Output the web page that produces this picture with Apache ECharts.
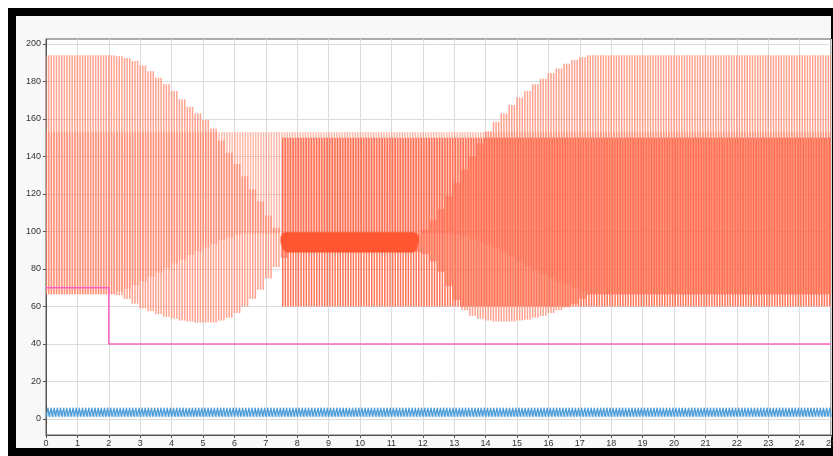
<!DOCTYPE html>
<html><head><meta charset="utf-8">
<script src="https://cdn.jsdelivr.net/npm/echarts@6/dist/echarts.min.js"></script>
<style>
html,body{margin:0;padding:0;background:#ffffff;width:833px;height:456px;overflow:hidden;}
#frame{position:absolute;left:8px;top:8px;width:825px;height:448px;background:#000;}
#panel{position:absolute;left:16px;top:16px;width:815px;height:432px;background:#f8f8f8;}
#chart{position:absolute;left:0;top:0;width:833px;height:456px;}
</style></head><body>
<div id="frame"></div><div id="panel"></div><div id="chart"></div>
<script>
// ---- data ----
// envelopes of the switching signals, one value every 0.25 s
const envStep = 0.25;
// signal 1: t = 0 .. 25
const start1 = 0;
const upper1 = [194,194,194,194,194,194,194,194,194,193.5,192.5,191,188.5,185.5,182,178.5,175,170.5,166.5,163,159.5,155,148.5,142,136,129.5,122.5,116,108.5,102,99,
  99,99,99,99,99,99,99,99,99,99,99,99,99,99,99,99,99,
  101,106,112,119,126,133,140,147,153.5,158.5,163,167.5,171.5,175,178.5,181.5,184.5,187,189.5,191.5,193,
  194,194,194,194,194,194,194,194,194,194,194,194,194,194,194,194,194,194,194,194,194,194,194,194,194,194,194,194,194,194,194,194];
const lower1 = [66.5,66.5,66.5,66.5,66.5,66.5,66.5,66.5,66.5,66,64,61.5,59,57.5,56,54.5,53.5,52.5,52,51.5,51.5,51.5,52.5,54,56.5,60,64,69,75,81,86,
  89,89,89,89,89,89,89,89,89,89,89,89,89,89,89,89,89,
  88,84,78.5,71,63.5,58,55,53.5,52.5,52,52,52,52.5,53,54,55,56.5,58,59.5,61.5,64,
  66.5,66.5,66.5,66.5,66.5,66.5,66.5,66.5,66.5,66.5,66.5,66.5,66.5,66.5,66.5,66.5,66.5,66.5,66.5,66.5,66.5,66.5,66.5,66.5,66.5,66.5,66.5,66.5,66.5,66.5,66.5,66.5];
// signal 2: t = 0 .. 25
const start2 = 0;
const upper2 = [153,153,153,153,153,153,153,153,153,153,153,153,153,153,153,153,153,153,153,153,153,153,153,153,153,153,153,153,153,153,153,
  153,153,153,153,153,153,153,153,153,153,153,153,153,153,153,153,153,
  153,153,153,153,153,153,153,153,153,153,153,153,153,153,153,153,153,153,153,153,153,
  153,153,153,153,153,153,153,153,153,153,153,153,153,153,153,153,153,153,153,153,153,153,153,153,153,153,153,153,153,153,153,153];
const lower2 = [66.5,66.5,66.5,66.5,66.5,66.5,66.5,66.5,66.5,68,69.5,71.5,73.5,76,78,80.5,83,85,87.5,89.5,91.5,93.5,95.5,97,98.5,
  99,99,99,99,99,99,99,99,99,99,99,99,99,99,99,99,99,99,99,99,99,99,99,99,99,99,99,
  98.5,97.5,96,94.5,93,91,89,86.5,84,81.5,79.5,77.5,75.5,73.5,72,70,68.5,
  66.5,66.5,66.5,66.5,66.5,66.5,66.5,66.5,66.5,66.5,66.5,66.5,66.5,66.5,66.5,66.5,66.5,66.5,66.5,66.5,66.5,66.5,66.5,66.5,66.5,66.5,66.5,66.5,66.5,66.5,66.5,66.5];
// signal 3: starts at t = 7.5
const start3 = 7.5;
const upper3 = [150,150,150,150,150,150,150,150,150,150,150,150,150,150,150,150,150,150,
  150,150,150,150,150,150,150,150,150,150,150,150,150,150,150,150,150,150,150,150,150,150,150,150,150,150,150,150,150,150,150,150,150,150,150,
  150,150,150,150,150,150,150,150,150,150,150,150,150,150,150,150,150,150];
const lower3 = [60,60,60,60,60,60,60,60,60,60,60,60,60,60,60,60,60,60,
  60,60,60,60,60,60,60,60,60,60,60,60,60,60,60,60,60,60,60,60,60,60,60,60,60,60,60,60,60,60,60,60,60,60,60,
  60,60,60,60,60,60,60,60,60,60,60,60,60,60,60,60,60,60];
const pulsesPerStep = 3;

// dense low-amplitude band
const bandT    = [7.48, 7.55, 7.65, 11.7, 11.8, 11.87];
const bandLow  = [94, 90.5, 89, 89, 90.5, 95];
const bandHigh = [97, 99, 99.5, 99.5, 99, 97];

// reference step (pink)
const stepT = [0, 2, 2, 25];
const stepV = [70, 70, 40, 40];

// fast small oscillation (blue)
const blueLow = 1.3, blueHigh = 6.0, bluePeriod = 0.1, blueRise = 0.065;
const lightBlueLow = 1.0, lightBlueHigh = 4.2;

// axis ticks
const xMin = 0, xMax = 25, xStep = 1;
const yTicks = [0,20,40,60,80,100,120,140,160,180,200];
const yMin = -8.53, yMax = 202.67;

// ---- build series ----
function buildPulses(start, up, lo, offset) {
  const out = [];
  for (let i = 0; i < up.length; i++) {
    for (let k = 0; k < pulsesPerStep; k++) {
      const t = start + i * envStep + k * envStep / pulsesPerStep + offset;
      if (t > xMax) continue;
      out.push([t, lo[i], up[i]]);
    }
  }
  return out;
}
const PW = 1.5;
function pulseRender(color, opacity) {
  return function (params, api) {
    const t = api.value(0);
    const top = api.coord([t, api.value(2)]);
    const bot = api.coord([t, api.value(1)]);
    return {type: 'rect', shape: {x: top[0] - PW / 2, y: top[1], width: PW, height: bot[1] - top[1]},
      style: {fill: color, opacity: opacity}};
  };
}
function blueData(lo, hi, phase) {
  const out = [];
  for (let c = 0; c * bluePeriod + phase <= xMax; c++) {
    const t0 = c * bluePeriod + phase;
    out.push([t0, lo]);
    if (t0 + blueRise <= xMax) out.push([t0 + blueRise, hi]);
  }
  return out;
}
const bandData = bandT.map((t, i) => [t, bandLow[i], bandHigh[i]]);

const chart = echarts.init(document.getElementById('chart'), null, {renderer: 'canvas'});
chart.setOption({
  animation: false,
  grid: {left: 46, top: 39, right: 2, bottom: 21, show: true, backgroundColor: '#ffffff',
    borderColor: '#5a5a5a', borderWidth: 1, outerBoundsMode: 'none', containLabel: false},
  xAxis: {type: 'value', min: xMin, max: xMax, interval: xStep,
    axisLine: {show: true, onZero: false, lineStyle: {color: '#555'}},
    axisTick: {show: true, length: 3, lineStyle: {color: '#555'}},
    axisLabel: {fontSize: 9, color: '#333', margin: 4, fontFamily: 'Liberation Sans, Arial, sans-serif', hideOverlap: false},
    splitLine: {show: true, lineStyle: {color: '#dcdcdc', width: 1}}},
  yAxis: {type: 'value', min: yMin, max: yMax,
    axisLine: {show: true, onZero: false, lineStyle: {color: '#555'}},
    axisTick: {show: true, length: 3, lineStyle: {color: '#555'}, customValues: yTicks},
    axisLabel: {fontSize: 9, color: '#333', margin: 5, customValues: yTicks, fontFamily: 'Liberation Sans, Arial, sans-serif'},
    splitLine: {show: true, lineStyle: {color: '#dcdcdc', width: 1}}},
  series: [
    {type: 'custom', name: 'p1', clip: true, renderItem: pulseRender('#ff8064', 0.72),
      encode: {x: 0, y: [1, 2]}, data: buildPulses(start1, upper1, lower1, 0), z: 2},
    {type: 'custom', name: 'p2', clip: true, renderItem: pulseRender('#ff8064', 0.55),
      encode: {x: 0, y: [1, 2]}, data: buildPulses(start2, upper2, lower2, 0.013), z: 2},
    {type: 'custom', name: 'p3', clip: true, renderItem: pulseRender('#ff5a3a', 0.85),
      encode: {x: 0, y: [1, 2]}, data: buildPulses(start3, upper3, lower3, 0.04), z: 2},
    {type: 'custom', name: 'band', clip: true, encode: {x: 0, y: [1, 2]}, data: bandData, z: 3,
      renderItem: function (params, api) {
        const i = params.dataIndex;
        if (i >= bandData.length - 1) return null;
        const a = bandData[i], b = bandData[i + 1];
        const pts = [api.coord([a[0], a[2]]), api.coord([b[0], b[2]]), api.coord([b[0], b[1]]), api.coord([a[0], a[1]])];
        return {type: 'polygon', shape: {points: pts}, style: {fill: '#ff5531', stroke: '#ff5531', lineWidth: 0.5}};
      }},
    {type: 'line', name: 'lightblue', data: blueData(lightBlueLow, lightBlueHigh, 0.03), showSymbol: false,
      lineStyle: {color: '#a9d1ef', width: 1}, z: 4},
    {type: 'line', name: 'blue', data: blueData(blueLow, blueHigh, 0), showSymbol: false,
      lineStyle: {color: '#4b9bd6', width: 1.2}, z: 5},
    {type: 'line', name: 'step', data: stepT.map((t, i) => [t, stepV[i]]), showSymbol: false,
      lineStyle: {color: '#ff62c4', width: 1.5}, z: 6}
  ]
});
</script></body></html>
